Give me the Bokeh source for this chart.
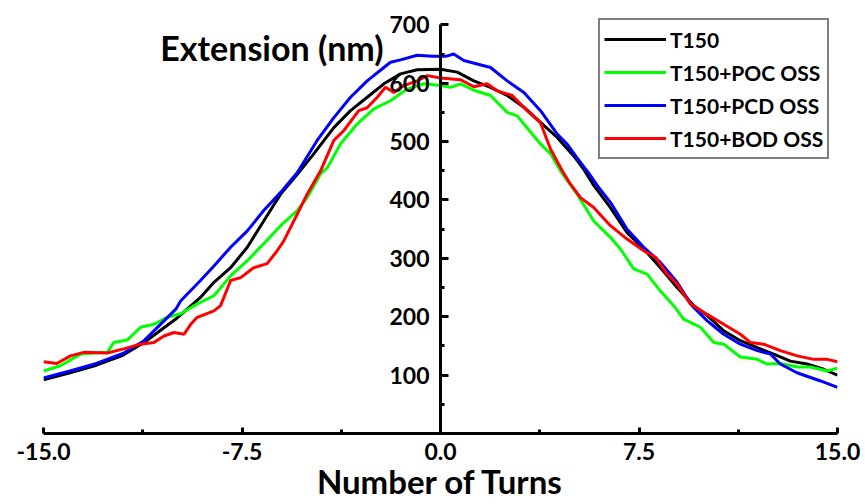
from bokeh.plotting import figure
from bokeh.models import FixedTicker, PrintfTickFormatter, Label, Range1d
from bokeh.embed import file_html
from bokeh.resources import INLINE

# ---- data ----
black_t = [-15, -14, -13, -12, -11.2, -10, -9.07, -8.56, -7.93, -7.3, -6.68, -6.04, -5.41, -4.79, -4.03,
           -3.4, -2.77, -2.14, -1.51, -0.88, 0, 0.63, 1.26, 1.89, 2.52, 3.15, 3.78, 4.41, 5.04, 5.42,
           5.79, 6.42, 7.05, 7.68, 8.31, 8.94, 9.57, 10.08, 10.7, 11.33, 11.97, 12.59, 13.22, 13.85,
           14.48, 15]
black_v = [92, 104, 117, 134, 156, 196, 233, 259, 284, 319, 364, 410, 444, 479, 524,
           553, 576, 599, 616, 623, 624, 619, 604, 593, 579, 559, 533, 507, 475, 452,
           425, 387, 344, 316, 284, 250, 219, 202, 176, 159, 147, 136, 124, 119,
           110, 100]

green_t = [-15, -14.36, -13.6, -12.59, -12.34, -11.84, -11.33, -10.83, -10.33, -9.82, -9.19, -8.56,
           -7.93, -7.3, -6.68, -6.04, -5.41, -5.04, -4.53, -4.28, -3.78, -3.15, -2.52, -1.89, -1.26,
           -0.63, 0, 0.38, 0.76, 1.26, 1.89, 2.52, 2.9, 3.15, 3.78, 4.16, 4.53, 5.16, 5.79, 6.42,
           6.8, 7.3, 7.81, 8.31, 8.81, 9.19, 9.82, 10.33, 10.7, 11.33, 11.97, 12.34, 12.84, 13.48,
           13.98, 14.61, 15]
green_v = [107, 116, 136, 139, 156, 160, 182, 187, 199, 205, 222, 236,
           270, 296, 325, 356, 382, 404, 445, 455, 496, 530, 556, 570, 590,
           599, 596, 593, 599, 588, 579, 550, 544, 530, 496, 479, 450, 410, 364, 336,
           316, 282, 273, 244, 219, 196, 182, 156, 153, 131, 127, 119, 120, 114,
           114, 107, 112]

blue_t = [-15, -14, -13, -12, -11.2, -10.58, -10, -9.82, -9.07, -8.56, -7.93, -7.3, -6.68, -6.04,
          -5.41, -4.66, -4.03, -3.4, -2.77, -2.14, -1.89, -1.51, -0.88, -0.3, 0.2, 0.5, 0.88, 1.89,
          2.52, 3.15, 3.78, 4.41, 4.8, 5.16, 5.6, 6.0, 6.42, 7.05, 7.68, 8.31, 8.94, 9.5, 10.08,
          10.7, 11.33, 11.97, 12.47, 12.84, 13.47, 14.36, 15]
blue_v = [95, 107, 120, 137, 159, 187, 213, 227, 262, 287, 319, 347, 382, 413,
          447, 502, 541, 576, 604, 627, 636, 640, 648, 646, 646, 650, 639, 627,
          604, 584, 553, 513, 495, 472, 446, 420, 396, 350, 319, 293, 259, 219, 193,
          170, 153, 142, 136, 119, 104, 90, 79]

red_t = [-15, -14.5, -13.98, -13.48, -12.59, -11.97, -11.33, -10.83, -10.45, -10.07, -9.69, -9.44,
         -9.19, -8.56, -8.31, -7.93, -7.55, -7.06, -6.55, -6.17, -5.92, -5.41, -5.04, -4.53, -4.03,
         -3.65, -3.09, -2.77, -2.39, -2.08, -1.76, -1.39, -0.88, -0.5, 0, 0.76, 1.26, 1.76, 2.14,
         2.71, 3.27, 3.78, 4.16, 4.6, 4.91, 5.29, 5.79, 6.42, 7.05, 7.68, 8.12, 8.56, 8.94, 9.44,
         10.08, 10.7, 11.33, 11.71, 12.21, 12.84, 13.48, 14.1, 14.61, 15]
red_v = [123, 120, 133, 139, 138, 145, 153, 156, 167, 173, 170, 187,
         199, 210, 219, 262, 267, 284, 291, 313, 330, 376, 410, 450, 502,
         519, 553, 558, 576, 593, 584, 596, 604, 613, 609, 606, 594, 599, 587,
         579, 553, 532, 487, 450, 427, 404, 387, 356, 333, 313, 302, 273, 256, 222,
         204, 187, 170, 156, 153, 142, 133, 127, 127, 123]

series_names = ["T150", "T150+POC OSS", "T150+PCD OSS", "T150+BOD OSS"]
series_colors = ["#000000", "#00ff00", "#0000ff", "#ff0000"]

x_ticks = [-15, -7.5, 0, 7.5, 15]
x_minor = [-11.25, -3.75, 3.75, 11.25]
y_ticks = [100, 200, 300, 400, 500, 600, 700]
y_minor = [50, 150, 250, 350, 450, 550, 650]

FONT = "Lato"

p = figure(width=865, height=504, output_backend="svg", toolbar_location=None,
           x_range=Range1d(-15, 15), y_range=Range1d(0, 716),
           min_border_left=43, min_border_right=28, min_border_top=15, min_border_bottom=71)
p.outline_line_color = None
p.grid.visible = False
p.background_fill_color = "white"
p.border_fill_color = "white"

data = [(black_t, black_v), (green_t, green_v), (blue_t, blue_v), (red_t, red_v)]
for (t, v), name, col in zip(data, series_names, series_colors):
    p.line(t, v, line_color=col, line_width=3, legend_label=name)

# axes
xa = p.xaxis[0]
xa.ticker = FixedTicker(ticks=x_ticks, minor_ticks=x_minor)
xa.formatter = PrintfTickFormatter(format="%.1f")
ya = p.yaxis[0]
ya.ticker = FixedTicker(ticks=y_ticks, minor_ticks=y_minor)
ya.fixed_location = 0
ya.bounds = (0, 700)
for ax in (xa, ya):
    ax.axis_line_width = 3
    ax.axis_line_color = "black"
    ax.major_tick_line_width = 3
    ax.minor_tick_line_width = 3
    ax.major_tick_out = 0
    ax.minor_tick_out = 0
    ax.major_label_text_font = FONT
    ax.major_label_text_font_style = "bold"
    ax.major_label_text_font_size = "23px"
    ax.major_label_text_color = "black"
xa.major_tick_in = 6
xa.minor_tick_in = 4
ya.major_tick_in = 8
ya.minor_tick_in = 4
xa.major_label_standoff = 9
ya.major_label_standoff = 11

xa.axis_label = "Number of Turns"
xa.axis_label_text_font = FONT
xa.axis_label_text_font_style = "bold"
xa.axis_label_text_font_size = "33px"
xa.axis_label_text_color = "black"
xa.axis_label_standoff = -2

# y axis title, drawn horizontally at the top left like the reference
p.add_layout(Label(x=-6.37, y=662, text="Extension (nm)", text_align="center",
                   text_baseline="alphabetic", text_font=FONT, text_font_style="bold",
                   text_font_size="34px", text_color="black"))

# legend
lg = p.legend[0]
lg.location = (555, 274)
lg.label_text_font = FONT
lg.label_text_font_style = "bold"
lg.label_text_font_size = "21px"
lg.label_text_color = "black"
lg.glyph_width = 62
lg.glyph_height = 30
lg.label_height = 30
lg.label_standoff = 4
lg.spacing = 3
lg.padding = 4
lg.margin = 0
lg.border_line_color = "black"
lg.border_line_width = 2
lg.background_fill_color = "white"
lg.background_fill_alpha = 1.0

open("out.html", "w").write(file_html(p, INLINE))
